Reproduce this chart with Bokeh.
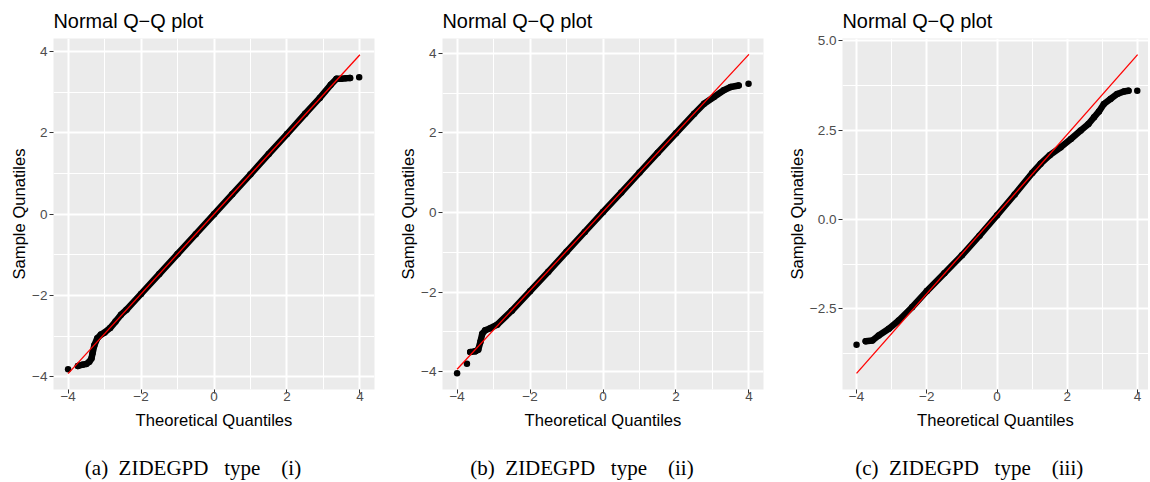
from bokeh.plotting import figure
from bokeh.layouts import row
from bokeh.models import FixedTicker, LinearAxis
from bokeh.embed import file_html
from bokeh.resources import INLINE

# ---------------- data ----------------
x_ticks = [-4, -2, 0, 2, 4]
x_minor = [-3, -1, 1, 3]
x_tick_labels = ["\u22124", "\u22122", "0", "2", "4"]

y_ticks_ab = [-4, -2, 0, 2, 4]
y_minor_ab = [-3, -1, 1, 3]
y_tick_labels_ab = ["\u22124", "\u22122", "0", "2", "4"]

y_ticks_c = [-2.5, 0.0, 2.5, 5.0]
y_minor_c = [-3.75, -1.25, 1.25, 3.75]
y_tick_labels_c = ["\u22122.5", "0.0", "2.5", "5.0"]

titles = ["Normal Q\u2212Q plot", "Normal Q\u2212Q plot", "Normal Q\u2212Q plot"]
x_title = "Theoretical Quantiles"
y_title = "Sample Qunatiles"
captions = ["(a)\u2002ZIDEGPD\u2002\u2005type\u2003(i)",
            "(b)\u2002ZIDEGPD\u2002\u2005type\u2003(ii)",
            "(c)\u2002ZIDEGPD\u2002\u2005type\u2003(iii)"]

# panel (a)
a_band_x = [-3.73, -3.6, -3.5, -3.42, -3.36, -3.33, -3.28, -3.2, -3.1, -3.0, -2.85, -2.7, -2.55, -2.4,
            -2.0, -1.5, -1.0, -0.5, 0.0, 0.5, 1.0, 1.5, 2.0, 2.5, 2.9, 3.2, 3.36, 3.49, 3.6, 3.73]
a_band_y = [-3.73, -3.70, -3.68, -3.63, -3.55, -3.42, -3.22, -3.05, -2.96, -2.91, -2.80, -2.64, -2.47, -2.35,
            -1.96, -1.47, -0.98, -0.49, 0.0, 0.49, 0.98, 1.48, 1.97, 2.47, 2.86, 3.18, 3.33, 3.33, 3.34, 3.35]
a_pts_x = [-4.0, 3.98]
a_pts_y = [-3.81, 3.37]
a_line_x = [-4.0, 4.0]
a_line_y = [-3.92, 3.92]

# panel (b)
b_band_x = [-3.64, -3.5, -3.42, -3.36, -3.31, -3.23, -3.09, -2.9, -2.5, -2.0, -1.5, -1.0, -0.5, 0.0,
            0.5, 1.0, 1.5, 2.0, 2.5, 2.77, 3.04, 3.31, 3.5, 3.72]
b_band_y = [-3.51, -3.49, -3.45, -3.25, -3.05, -2.96, -2.91, -2.82, -2.47, -1.98, -1.49, -0.99, -0.49, 0.01,
            0.50, 1.0, 1.50, 1.99, 2.48, 2.73, 2.90, 3.07, 3.15, 3.19]
b_pts_x = [-4.0, -3.73, 3.99]
b_pts_y = [-4.04, -3.80, 3.23]
b_line_x = [-4.0, 4.0]
b_line_y = [-3.94, 3.97]

# panel (c)
c_band_x = [-3.74, -3.55, -3.37, -3.08, -2.8, -2.42, -2.0, -1.5, -1.0, -0.5, 0.0, 0.5, 1.0, 1.24,
            1.5, 1.81, 2.1, 2.38, 2.6, 2.76, 2.9, 3.04, 3.23, 3.42, 3.61, 3.74]
c_band_y = [-3.40, -3.38, -3.24, -3.05, -2.82, -2.45, -2.0, -1.50, -1.00, -0.45, 0.12, 0.70, 1.30, 1.56,
            1.80, 2.02, 2.25, 2.49, 2.67, 2.86, 3.02, 3.23, 3.37, 3.51, 3.58, 3.60]
c_pts_x = [-4.0, 3.99]
c_pts_y = [-3.50, 3.60]
c_line_x = [-4.0, 4.0]
c_line_y = [-4.30, 4.61]

SANS = "Liberation Sans"
SERIF = "Liberation Serif"


def make_panel(width, left, right, xr, yr, yticks, yminor, ylabels,
               band_x, band_y, pts_x, pts_y, line_x, line_y, title, caption, cap_pad):
    p = figure(width=width, height=482, x_range=xr, y_range=yr,
               output_backend="svg", toolbar_location=None,
               min_border_left=left, min_border_right=right,
               min_border_top=38, min_border_bottom=93)
    p.background_fill_color = "#EBEBEB"
    p.border_fill_color = "white"
    p.outline_line_color = None

    p.title.text = title
    p.title.align = "left"
    p.title.text_font = SANS
    p.title.text_font_size = "19.9px"
    p.title.text_font_style = "normal"
    p.title.text_color = "black"
    p.title.standoff = 14

    p.xaxis.ticker = FixedTicker(ticks=x_ticks, minor_ticks=x_minor)
    p.yaxis.ticker = FixedTicker(ticks=yticks, minor_ticks=yminor)
    p.xaxis.major_label_overrides = dict(zip(x_ticks, x_tick_labels))
    p.yaxis.major_label_overrides = dict(zip(yticks, ylabels))
    for ax in (p.xaxis, p.yaxis):
        ax.axis_line_color = None
        ax.minor_tick_line_color = None
        ax.major_tick_line_color = "#333333"
        ax.major_tick_line_width = 1
        ax.major_tick_in = 0
        ax.major_tick_out = 4
        ax.major_label_text_font = SANS
        ax.major_label_text_font_size = "13.5px"
        ax.major_label_text_color = "#4D4D4D"
        ax.axis_label_text_font = SANS
        ax.axis_label_text_font_size = "16.6px"
        ax.axis_label_text_font_style = "normal"
        ax.axis_label_text_color = "black"
    p.xaxis.major_label_standoff = -2
    p.xaxis.axis_label_standoff = 7
    p.yaxis.major_label_standoff = 2
    p.yaxis.axis_label_standoff = 0
    p.xaxis.axis_label = x_title
    p.yaxis.axis_label = y_title

    for g in (p.xgrid, p.ygrid):
        g.grid_line_color = "white"
        g.grid_line_width = 2
        g.minor_grid_line_color = "white"
        g.minor_grid_line_width = 1

    p.line(band_x, band_y, line_color="black", line_width=6.5,
           line_cap="round", line_join="round")
    p.scatter(band_x + pts_x, band_y + pts_y, size=6.5, marker="circle",
              fill_color="black", line_color="black", line_width=0)
    p.line(line_x, line_y, line_color="red", line_width=1.3)

    # caption: an extra, tick-less axis below whose label is the sub-figure caption
    cap = LinearAxis(ticker=FixedTicker(ticks=[]), axis_line_color=None,
                     major_tick_line_color=None, minor_tick_line_color=None,
                     major_tick_out=0, major_tick_in=0, minor_tick_out=0, minor_tick_in=0,
                     major_label_standoff=0, major_label_text_font_size="0px",
                     axis_label=caption + cap_pad, axis_label_standoff=23,
                     axis_label_text_font=SERIF, axis_label_text_font_size="21px",
                     axis_label_text_font_style="normal", axis_label_text_color="black")
    p.add_layout(cap, "below")
    return p


pa = make_panel(390, 53, 16, (-4.4, 4.4), (-4.31, 4.32), y_ticks_ab, y_minor_ab, y_tick_labels_ab,
                a_band_x, a_band_y, a_pts_x, a_pts_y, a_line_x, a_line_y, titles[0], captions[0],
                "\u2003\u2003")
pb = make_panel(390, 52, 17, (-4.4, 4.4), (-4.45, 4.37), y_ticks_ab, y_minor_ab, y_tick_labels_ab,
                b_band_x, b_band_y, b_pts_x, b_pts_y, b_line_x, b_line_y, titles[1], captions[1],
                "\u2003\u2003")
pc = make_panel(368, 62, 0, (-4.4, 4.31), (-4.75, 5.06), y_ticks_c, y_minor_c, y_tick_labels_c,
                c_band_x, c_band_y, c_pts_x, c_pts_y, c_line_x, c_line_y, titles[2], captions[2],
                "\u2003\u2003\u2002")

layout = row(pa, pb, pc)
open("out.html", "w").write(file_html(layout, INLINE))
